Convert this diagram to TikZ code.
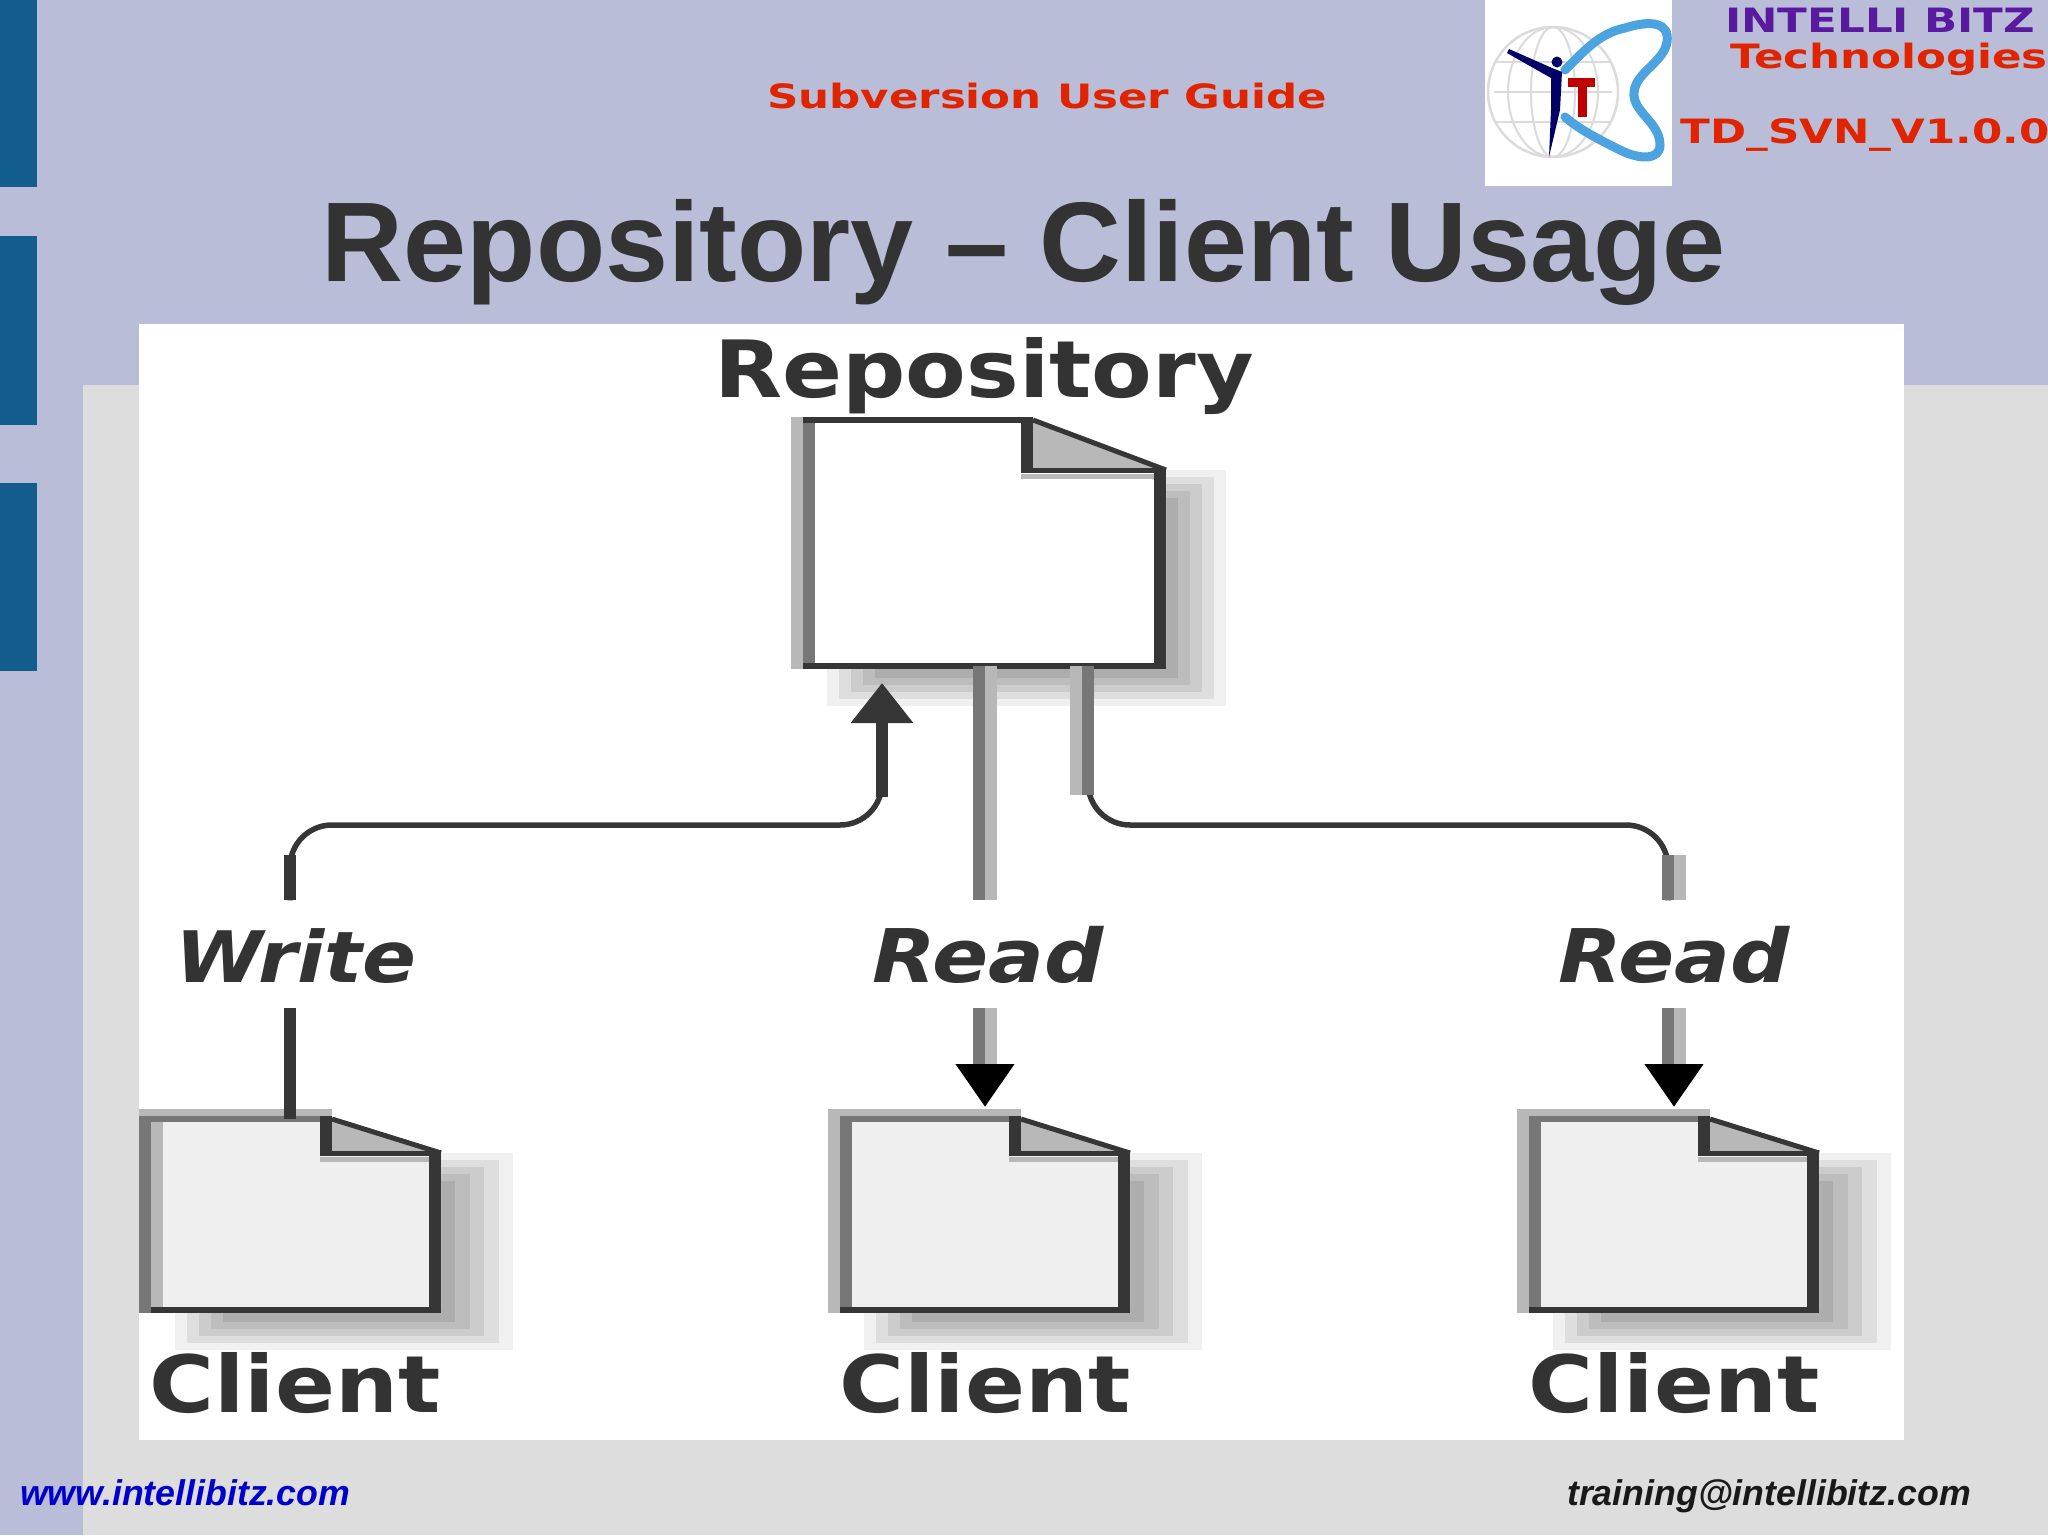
\documentclass[tikz,border=0pt]{standalone}
\usepackage{fontspec}
\setmainfont{Liberation Sans}
\newfontfamily\labelfont[FakeStretch=1.12]{DejaVu Sans}
\newfontfamily\headfont[FakeStretch=1.3]{DejaVu Sans}
\usetikzlibrary{arrows.meta}
\definecolor{slidebg}{HTML}{B9BDD7}
\definecolor{slidegray}{HTML}{DDDDDD}
\definecolor{tabblue}{HTML}{135C8E}
\definecolor{headred}{HTML}{E02400}
\definecolor{headpurple}{HTML}{5A1AA0}
\definecolor{titlegray}{HTML}{333333}
\definecolor{logoblue}{HTML}{4BA3E0}
\definecolor{darkband}{HTML}{363636}
\definecolor{midband}{HTML}{777777}
\definecolor{lightband}{HTML}{B8B8B8}
\definecolor{docfill}{HTML}{EFEFEF}
\tikzset{
	headtext/.style={anchor=base,inner sep=0pt,font=\headfont\bfseries\fontsize{33.5}{40}\selectfont},
	foottext/.style={anchor=base west,inner sep=0pt,font=\bfseries\itshape\fontsize{35.7}{40}\selectfont},
	doclabel/.style={anchor=base,inner sep=0pt,text=titlegray,font=\labelfont\bfseries\fontsize{79}{80}\selectfont},
	oplabel/.style={inner sep=0pt,minimum height=107pt,text height=56pt,text depth=0pt,text=titlegray,font=\labelfont\bfseries\itshape\fontsize{74}{80}\selectfont},
	docnode/.style={inner sep=0pt,outer sep=0pt},
	wire/.style={darkband,line width=5.5pt,rounded corners=42pt},
	darkwire/.style={darkband,line width=12pt},
	midwire/.style={midband,line width=12pt},
	lightwire/.style={lightband,line width=12pt}
}
\newcommand{\docshape}[9]{
	\foreach \k/\shade in {0/6,1/13,2/20,3/26,4/32} {
		\fill[black!\shade] (#2+24+12*\k,#3+#7+7*\k) rectangle (#2+#4+\shadowgap-\shadowgap/5*\k,#3+#5+40-7*\k);
	}
	\fill[#8] (#2,#3) -- (#2+#4-#6,#3) -- (#2+#4-#6,#3+#7) -- (#2+#4,#3+#7) -- (#2+#4,#3+#5) -- (#2,#3+#5) -- cycle;
	\fill[lightband] (#2+#4-#6,#3) -- (#2+#4,#3+#7) -- (#2+#4-#6,#3+#7) -- cycle;
	\node[docnode,minimum width=#4pt,minimum height=#5pt] (#1) at (#2+#4/2,#3+#5/2) {};
	\draw[lightwire] (#2-6,#3-3) -- (#2-6,#3+#5+3);
	\draw[midwire] (#2+6,#3-3) -- (#2+6,#3+#5+3);
	\draw[#9,line width=6pt] (#2,#3) -- (#2+#4-#6,#3);
	\draw[darkband,line width=5pt] (#2+#4-#6,#3) -- (#2+#4,#3+#7);
	\draw[darkband,line width=12pt] (#2+#4-#6-6,#3-3) -- (#2+#4-#6-6,#3+#7+3);
	\draw[lightband,line width=5pt] (#2+#4-#6-12,#3+#7+6) -- (#2+#4-12,#3+#7+6);
	\draw[darkband,line width=5pt] (#2+#4-#6-6,#3+#7) -- (#2+#4,#3+#7);
	\draw[darkband,line width=12pt] (#2+#4-6,#3+#7-3) -- (#2+#4-6,#3+#5+3);
	\draw[darkband,line width=6pt] (#2,#3+#5) -- (#2+#4,#3+#5);
}

\begin{document}
\begin{tikzpicture}[x=1pt,y=-1pt]
	\useasboundingbox (0,0) rectangle (2048,1535);
	\fill[slidebg] (0,0) rectangle (2048,1535);
	\fill[slidegray] (83,385) rectangle (2048,1535);
	\foreach \y/\z in {0/187,236/425,483/671} {
		\fill[tabblue] (0,\y) rectangle (37,\z);
	}
	\fill[white] (139,324) rectangle (1904,1440);

	\node[docnode,fill=white,minimum width=187pt,minimum height=186pt] (logo) at (1578.5,93) {};
	\draw[black!14,line width=2.5pt] (1553,92) circle (65);
	\foreach \w in {22,45} {
		\draw[black!14,line width=2pt] (1553,92) ellipse (\w pt and 65pt);
	}
	\foreach \y in {62,92,122} {
		\draw[black!14,line width=2pt] (1494,\y) -- (1612,\y);
	}
	\draw[logoblue,line width=9pt,line cap=round] (1565,70) .. controls (1585,50) and (1600,33) .. (1625,28) .. controls (1650,20) and (1670,22) .. (1667,42) .. controls (1664,62) and (1636,72) .. (1634,92) .. controls (1632,112) and (1660,122) .. (1660,145) .. controls (1660,160) and (1640,160) .. (1620,150) .. controls (1600,140) and (1580,130) .. (1565,117);
	\fill[blue!40!black] (1557,62) circle (5.5);
	\fill[blue!40!black] (1509,49) -- (1552,68) -- (1562,72) -- (1560,110) -- (1549,157) -- (1551,110) -- (1551,78) -- (1507,53) -- cycle;
	\fill[red!75!black] (1568,78) rectangle (1595,87);
	\fill[red!75!black] (1578,87) rectangle (1587,117);

	\node[headtext,text=headred] (guide) at (1047,108) {Subversion User Guide};
	\node[headtext,text=headpurple] (company) at (1880,32) {INTELLI BITZ};
	\node[headtext,text=headred] (tech) at (1889,68) {Technologies};
	\node[headtext,text=headred] (version) at (1865,143) {TD\_SVN\_V1.0.0};
	\node[anchor=base,inner sep=0pt,text=titlegray,font=\bfseries\fontsize{113.3}{120}\selectfont] (title) at (1024,281) {Repository – Client Usage};
	\node[foottext,text=blue!80!black] (site) at (20,1505) {www.intellibitz.com};
	\node[foottext,text=black!90] (mail) at (1567,1505) {training@intellibitz.com};

	\def\shadowgap{60}
	\docshape{repo}{803}{420}{363}{246}{133}{50}{white}{darkband}
	\def\shadowgap{72}
	\foreach \name/\x in {clienta/151,clientb/840,clientc/1529} {
		\docshape{\name}{\x}{1119}{290}{191}{109}{34}{docfill}{midband}
		\draw[lightband,line width=7pt] (\x-12,1112.5) -- (\x+181,1112.5);
	}
	\draw[midwire] (145,1116) -- (145,1313);
	\draw[lightwire] (157,1122) -- (157,1307);

	\node[doclabel] (repolabel) at (984,397) {Repository};
	\node[doclabel] (labela) at (295,1412) {Client};
	\node[doclabel] (labelb) at (985,1412) {Client};
	\node[doclabel] (labelc) at (1674,1412) {Client};
	\node[oplabel,font=\labelfont\bfseries\itshape\fontsize{71}{80}\selectfont] (write) at (296,954) {Write};
	\node[oplabel] (readb) at (988,954) {Read};
	\node[oplabel] (readc) at (1674,954) {Read};

	\coordinate (wcornera) at (290,825);
	\coordinate (wcornerb) at (882,825);
	\coordinate (rcornera) at (1088,825);
	\coordinate (rcornerb) at (1668,825);

	\draw[wire] ([xshift=-6pt]write.north) -- (wcornera) -- (wcornerb) -- (882,790);
	\draw[darkwire] ([xshift=-6pt]write.north) -- ++(0,-45);
	\draw[darkwire,-{Triangle[length=40pt,width=60pt]},shorten >=17pt] (882,797) -- ([xshift=-102.5pt]repo.south);
	\draw[darkwire] ([xshift=-6pt]write.south) -- ([xshift=-6pt]write.south |- clienta.north);

	\draw[midwire] ([xshift=-6pt]clientb.north |- repo.south) -- ([xshift=-6pt]clientb.north |- readb.north);
	\draw[lightwire] ([xshift=6pt]clientb.north |- repo.south) -- ([xshift=6pt]clientb.north |- readb.north);
	\draw[midband,line width=24pt,-{Triangle[length=43pt,width=56pt,black]},shorten >=12pt] (clientb.north |- readb.south) -- (clientb.north);
	\draw[lightwire] ([xshift=6pt]clientb.north |- readb.south) -- ++(0,56);

	\draw[wire] (1088,790) -- (rcornera) -- (rcornerb) -- ([xshift=-6pt]readc.north);
	\draw[lightwire] ([xshift=91.5pt]repo.south) -- ++(0,129);
	\draw[midwire] ([xshift=103.5pt]repo.south) -- ++(0,129);
	\draw[midwire] ([xshift=-6pt]readc.north) -- ++(0,-45);
	\draw[lightwire] ([xshift=6pt]readc.north) -- ++(0,-45);
	\draw[midband,line width=24pt,-{Triangle[length=43pt,width=56pt,black]},shorten >=12pt] (clientc.north |- readc.south) -- (clientc.north);
	\draw[lightwire] ([xshift=6pt]clientc.north |- readc.south) -- ++(0,56);
\end{tikzpicture}
\end{document}
